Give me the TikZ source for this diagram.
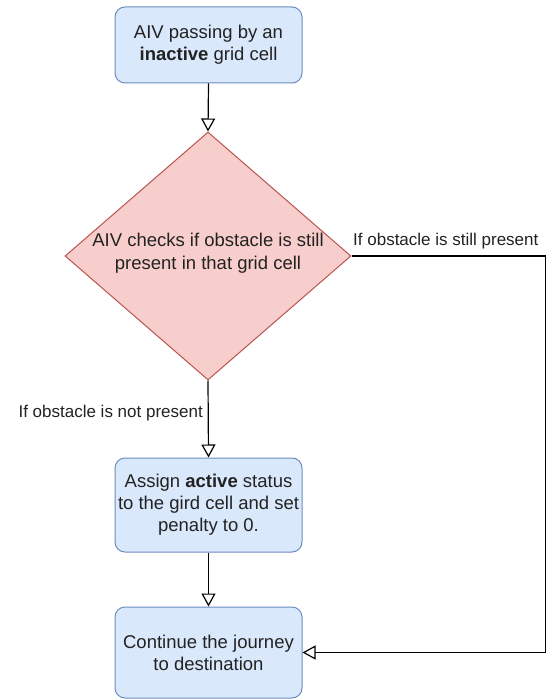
\documentclass[tikz,border=0pt]{standalone}
\usepackage{fontspec}
\setmainfont{Liberation Sans}
\usetikzlibrary{arrows.meta,shapes.geometric}
\definecolor{boxfill}{HTML}{DAE8FC}
\definecolor{boxdraw}{HTML}{6C8EBF}
\definecolor{decfill}{HTML}{F8CECC}
\definecolor{decdraw}{HTML}{B85450}
\definecolor{txt}{HTML}{222222}
\begin{document}
\begin{tikzpicture}[x=1pt,y=-1pt,
  procbox/.style={draw=boxdraw, fill=boxfill, rounded corners=10pt, minimum width=187pt,
    align=center, inner sep=0pt, line width=1pt, text=txt,
    font=\fontsize{18.5}{22}\selectfont},
  decbox/.style={shape=diamond, draw=decdraw, fill=decfill, line width=1pt, inner sep=0pt,
    minimum width=286pt, minimum height=248pt},
  dectext/.style={align=center, text=txt, font=\fontsize{18.5}{23}\selectfont, inner sep=0pt},
  lbl/.style={text=txt, font=\fontsize{17}{20}\selectfont, inner sep=0pt},
  arr/.style={draw=black, line width=1.2pt, -{Triangle[open, length=13pt, width=14pt]}}
]
\useasboundingbox (0,0) rectangle (547,700);
\node[procbox, minimum height=76pt] (b1) at (208.5,45) {AIV passing by an\\\textbf{inactive} grid cell};
\node[decbox] (dec) at (208,256) {};
\node[dectext] (dect) at (208,253.5) {AIV checks if obstacle is still\\present in that grid cell};
\node[procbox, minimum height=94pt] (b2) at (208.5,505) {Assign \textbf{active} status\\to the gird cell and set\\penalty to 0.};
\node[procbox, minimum height=91pt] (b3) at (208.5,652.5) {Continue the journey\\to destination};
\coordinate (rc) at (545.5,0);
\node[lbl, anchor=west] (l1) at (353,241) {If obstacle is still present};
\node[lbl, anchor=east] (l2) at (203,413) {If obstacle is not present};
\draw[arr] (b1.south) -- (dec.north);
\draw[arr] (dec.south) -- (b2.north);
\draw[arr] (b2.south) -- (b3.north);
\draw[arr] (dec.east) -- (dec.east -| rc) |- (b3.east);
\end{tikzpicture}
\end{document}
